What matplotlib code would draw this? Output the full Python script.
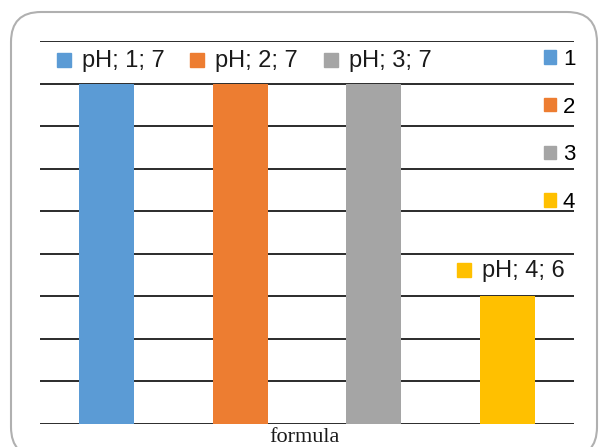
import matplotlib
matplotlib.use("Agg")
import matplotlib.pyplot as plt
import matplotlib.patches as mpatch
import matplotlib.transforms as mtrans

# data
categories = ["1", "2", "3", "4"]
values = [7, 7, 7, 6]
label_names = ["pH", "pH", "pH", "pH"]
COLORS = ["#5B9BD5", "#ED7D31", "#A5A5A5", "#FFC000"]

W, H = 599, 447
fig = plt.figure(figsize=(W / 100, H / 100), dpi=100)
plt.rcParams["font.family"] = ["Liberation Sans", "DejaVu Sans"]

# rounded chart border
border = mpatch.FancyBboxPatch((11 / W, -10 / H), (597 - 11) / W, (435 + 10) / H,
                               boxstyle="round,pad=0,rounding_size=0.05",
                               transform=fig.transFigure, fill=False,
                               edgecolor="#b0b0b0", linewidth=1.5,
                               mutation_aspect=W / H)
fig.patches.append(border)

ax = fig.add_axes([40 / W, 23 / H, (574 - 40) / W, (424 - 41) / H])
xs = list(range(len(categories)))
ax.bar(xs, values, width=0.41, color=COLORS, zorder=3)
ax.set_xlim(-0.5, 3.5)
ax.set_ylim(5.4, 7.2)
ax.set_yticks([5.4 + 0.2 * i for i in range(10)])
ax.yaxis.grid(True, color="#1a1a1a", linewidth=1.3, zorder=1)
ax.set_yticklabels([])
ax.set_xticks([])
ax.tick_params(length=0)
for s in ax.spines.values():
    s.set_visible(False)

# data labels: "name; category; value" with a colour key
for x, v, n, c, col in zip(xs, values, label_names, categories, COLORS):
    off = 16 if v == max(values) else 18
    ax.annotate(f"{n}; {c}; {v}", (x, v), xytext=(-18, off), textcoords="offset points",
                ha="left", va="center", fontsize=17, color="#1a1a1a")
    tr = mtrans.offset_copy(ax.transData, fig=fig, x=-31, y=off + 1, units="points")
    ax.plot([x], [v], marker="s", markersize=10.5, color=col, linestyle="none",
            transform=tr, clip_on=False, zorder=4)

handles = [mpatch.Patch(color=col) for col in COLORS]
fig.legend(handles, categories, loc="upper left", bbox_to_anchor=(544 / W, 1 - 49 / H),
           frameon=False, fontsize=16, handlelength=0.55, handleheight=0.55,
           handletextpad=0.3, labelspacing=1.2, borderpad=0, borderaxespad=0)

fig.text(304 / W, 1 - 437 / H, "formula", ha="center", va="center",
         fontsize=16, family=["Liberation Serif", "DejaVu Serif"], color="#1a1a1a")

fig.savefig("out.png", dpi=100)
